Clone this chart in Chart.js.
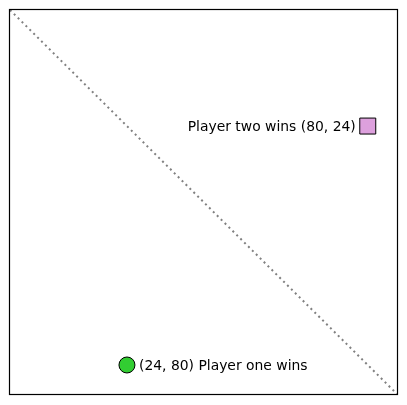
<!DOCTYPE html>
<html>
<head>
<meta charset="utf-8">
<script src="https://cdn.jsdelivr.net/npm/chart.js@4/dist/chart.umd.min.js"></script>
<style>
html,body{margin:0;padding:0;background:#fff;}
#wrap{width:407px;height:405px;}
</style>
</head>
<body>
<div id="wrap"><canvas id="c" width="407" height="405"></canvas></div>
<script>
// Data
const pointNames = ["Player one wins", "Player two wins"];
const xValues = [24, 80];
const yValues = [80, 24];
const axisRange = [-3.2, 86.8];

const labelPlugin = {
  id: 'labels',
  afterDatasetsDraw(chart) {
    const ctx = chart.ctx;
    const a = chart.chartArea;
    const xs = chart.scales.x, ys = chart.scales.y;
    ctx.save();
    ctx.font = '13.9px "DejaVu Sans"';
    ctx.fillStyle = '#000';
    ctx.textBaseline = 'middle';
    for (let i = 0; i < xValues.length; i++) {
      const px = xs.getPixelForValue(xValues[i]);
      const py = ys.getPixelForValue(yValues[i]);
      const coord = '(' + xValues[i] + ', ' + yValues[i] + ')';
      if (i === 0) {
        ctx.textAlign = 'left';
        ctx.fillText(coord + ' ' + pointNames[i], px + 12, py + 1);
      } else {
        ctx.textAlign = 'right';
        ctx.fillText(pointNames[i] + ' ' + coord, px - 12, py + 1);
      }
    }
    ctx.strokeStyle = '#000';
    ctx.lineWidth = 1.2;
    ctx.strokeRect(a.left - 0.5, a.top - 0.5, a.right - a.left + 1, a.bottom - a.top + 1);
    ctx.restore();
  }
};

new Chart(document.getElementById('c'), {
  type: 'scatter',
  data: {
    datasets: [
      {
        type: 'line',
        data: [{x: axisRange[0], y: axisRange[0]}, {x: axisRange[1], y: axisRange[1]}],
        borderColor: '#808080',
        borderWidth: 2,
        borderDash: [2, 3.5],
        pointRadius: 0,
        fill: false,
        order: 2
      },
      {
        data: [{x: xValues[0], y: yValues[0]}],
        pointStyle: 'circle',
        pointRadius: 8,
        backgroundColor: '#32cd32',
        borderColor: '#000',
        borderWidth: 1,
        order: 1
      },
      {
        data: [{x: xValues[1], y: yValues[1]}],
        pointStyle: 'rect',
        pointRadius: 11.3,
        backgroundColor: '#dda0dd',
        borderColor: '#000',
        borderWidth: 1,
        order: 1
      }
    ]
  },
  options: {
    responsive: false,
    animation: false,
    layout: {autoPadding: false, padding: {left: 10, top: 10, right: 10, bottom: 11}},
    plugins: {legend: {display: false}, tooltip: {enabled: false}},
    scales: {
      x: {type: 'linear', min: axisRange[0], max: axisRange[1], display: false},
      y: {type: 'linear', min: axisRange[0], max: axisRange[1], reverse: true, display: false}
    }
  },
  plugins: [labelPlugin]
});
</script>
</body>
</html>
